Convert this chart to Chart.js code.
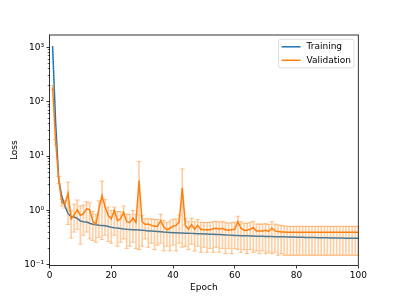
<!DOCTYPE html>
<html>
<head>
<meta charset="utf-8">
<script src="https://cdn.jsdelivr.net/npm/chart.js@4.4.0/dist/chart.umd.min.js"></script>
<style>
	html, body { margin: 0; padding: 0; background: #fff; }
</style>
</head>
<body>
<canvas id="chart" width="399" height="299"></canvas>
<script>
// values, one per epoch (1..100)
const trainLoss = [
	1050, 40, 3.6, 1.8, 1.2, 0.87, 0.77, 0.76, 0.71, 0.64,
	0.62, 0.61, 0.58, 0.555, 0.545, 0.535, 0.53, 0.52, 0.505, 0.49,
	0.48, 0.475, 0.465, 0.455, 0.45, 0.447, 0.443, 0.44, 0.435, 0.43,
	0.425, 0.42, 0.418, 0.414, 0.41, 0.405, 0.4, 0.397, 0.394, 0.39,
	0.388, 0.386, 0.384, 0.382, 0.38, 0.378, 0.376, 0.374, 0.372, 0.37,
	0.368, 0.366, 0.364, 0.362, 0.36, 0.357, 0.354, 0.351, 0.348, 0.345,
	0.344, 0.343, 0.342, 0.341, 0.34, 0.338, 0.336, 0.334, 0.333, 0.332,
	0.331, 0.33, 0.329, 0.328, 0.327, 0.326, 0.325, 0.324, 0.323, 0.322,
	0.321, 0.32, 0.319, 0.318, 0.317, 0.316, 0.315, 0.315, 0.314, 0.313,
	0.312, 0.312, 0.311, 0.31, 0.31, 0.309, 0.308, 0.308, 0.307, 0.306
];
const valLoss = [
	182, 18, 3.6, 1.4, 1.3, 2.07, 0.70, 0.83, 1.03, 0.81,
	0.87, 1.07, 1.03, 0.64, 0.55, 1.07, 1.88, 1.15, 0.81, 0.70,
	1.0, 0.65, 0.70, 0.92, 0.62, 0.60, 0.72, 0.60, 3.55, 0.62,
	0.55, 0.56, 0.53, 0.51, 0.51, 0.65, 0.50, 0.44, 0.47, 0.51,
	0.53, 0.62, 2.6, 0.53, 0.45, 0.55, 0.45, 0.53, 0.45, 0.44,
	0.44, 0.44, 0.46, 0.47, 0.45, 0.47, 0.44, 0.43, 0.44, 0.45,
	0.62, 0.47, 0.43, 0.43, 0.45, 0.48, 0.42, 0.42, 0.42, 0.43,
	0.41, 0.47, 0.42, 0.41, 0.40, 0.40, 0.398, 0.397, 0.396, 0.396,
	0.395, 0.395, 0.395, 0.395, 0.395, 0.395, 0.395, 0.395, 0.395, 0.395,
	0.395, 0.395, 0.395, 0.395, 0.395, 0.395, 0.395, 0.395, 0.395, 0.395
];
const valHigh = [
	200, 20, 4.2, 1.6, 1.5, 3.3, 1.0, 1.3, 1.55, 1.2,
	1.25, 1.45, 1.38, 0.95, 0.85, 1.5, 3.45, 1.6, 1.15, 1.0,
	1.15, 0.95, 0.95, 1.2, 0.85, 0.85, 1.0, 0.85, 8.0, 0.80,
	0.70, 0.70, 0.70, 0.68, 0.68, 0.85, 0.66, 0.60, 0.64, 0.68,
	0.70, 0.82, 5.8, 0.70, 0.62, 0.72, 0.62, 0.68, 0.61, 0.60,
	0.60, 0.60, 0.62, 0.63, 0.61, 0.63, 0.60, 0.58, 0.60, 0.61,
	0.78, 0.62, 0.58, 0.58, 0.60, 0.63, 0.56, 0.56, 0.56, 0.57,
	0.55, 0.62, 0.56, 0.54, 0.53, 0.52, 0.51, 0.51, 0.51, 0.51,
	0.51, 0.51, 0.51, 0.51, 0.51, 0.51, 0.51, 0.51, 0.51, 0.51,
	0.51, 0.51, 0.51, 0.51, 0.51, 0.51, 0.51, 0.51, 0.51, 0.51
];
const valLow = [
	165, 16, 3.1, 1.2, 1.1, 0.55, 0.31, 0.40, 0.45, 0.24,
	0.35, 0.40, 0.30, 0.28, 0.26, 0.32, 0.29, 0.35, 0.27, 0.25,
	0.35, 0.22, 0.26, 0.30, 0.20, 0.22, 0.26, 0.20, 0.19, 0.22,
	0.30, 0.21, 0.25, 0.19, 0.23, 0.25, 0.18, 0.22, 0.18, 0.23,
	0.18, 0.25, 0.21, 0.22, 0.19, 0.24, 0.18, 0.22, 0.17, 0.21,
	0.17, 0.20, 0.17, 0.21, 0.17, 0.20, 0.16, 0.20, 0.16, 0.20,
	0.19, 0.17, 0.19, 0.16, 0.19, 0.17, 0.18, 0.16, 0.18, 0.16,
	0.17, 0.16, 0.17, 0.15, 0.16, 0.15, 0.15, 0.15, 0.15, 0.15,
	0.15, 0.15, 0.15, 0.15, 0.15, 0.15, 0.15, 0.15, 0.15, 0.15,
	0.15, 0.15, 0.15, 0.15, 0.15, 0.15, 0.15, 0.15, 0.15, 0.15
];
const epochs = trainLoss.map((_, i) => i + 1);

const xTicks = [0, 20, 40, 60, 80, 100];
const yMajorTicks = [0.1, 1, 10, 100, 1000];
const yMajorLabels = ['10\u207B\u00B9', '10\u2070', '10\u00B9', '10\u00B2', '10\u00B3'];
const yMinorTicks = [];
for (let p = -1; p <= 3; p++) {
	for (let k = 2; k <= 9; k++) yMinorTicks.push(k * Math.pow(10, p));
}

const Y_MIN = 0.097, Y_MAX = 1680;
const BLUE = '#1f77b4', ORANGE = '#ff7f0e', ERR = 'rgba(255,127,14,0.38)';
const FONT = { family: '"DejaVu Sans", sans-serif', size: 9 };

const frame = {
	id: 'frame',
	afterDraw(chart) {
		const { ctx, chartArea: a } = chart;
		ctx.save();
		ctx.strokeStyle = '#000';
		ctx.lineWidth = 0.8;
		ctx.strokeRect(a.left, a.top, a.right - a.left, a.bottom - a.top);
		ctx.restore();
	}
};

const legendBox = {
	id: 'legendBox',
	afterDraw(chart) {
		const { ctx, chartArea: a } = chart;
		const items = chart.data.datasets.filter(d => d.label);
		ctx.save();
		ctx.font = '9px "DejaVu Sans", sans-serif';
		const textW = Math.max(...items.map(d => ctx.measureText(d.label).width));
		const w = 28 + textW + 3, h = 28.5;
		const x0 = a.right - 4.3 - w, y0 = a.top + 4.3;
		ctx.fillStyle = 'rgba(255,255,255,0.8)';
		ctx.strokeStyle = '#d6d6d6';
		ctx.lineWidth = 0.8;
		ctx.beginPath();
		ctx.roundRect(x0, y0, w, h, 2);
		ctx.fill();
		ctx.stroke();
		items.forEach((d, i) => {
			const y = y0 + 7.5 + i * 13.5;
			ctx.strokeStyle = d.borderColor;
			ctx.lineWidth = 1.5;
			ctx.beginPath();
			ctx.moveTo(x0 + 3, y);
			ctx.lineTo(x0 + 22, y);
			ctx.stroke();
			ctx.fillStyle = '#000';
			ctx.textBaseline = 'middle';
			ctx.fillText(d.label, x0 + 28, y);
		});
		ctx.restore();
	}
};

new Chart(document.getElementById('chart'), {
	type: 'line',
	data: {
		datasets: [
			{
				label: 'Training',
				data: epochs.map((e, i) => ({ x: e, y: trainLoss[i] })),
				borderColor: BLUE, borderWidth: 1.5, pointRadius: 0,
				yAxisID: 'y', order: 3
			},
			{
				type: 'bar',
				data: epochs.map((e, i) => ({ x: e, y: [valLow[i], valHigh[i]] })),
				backgroundColor: ERR, barThickness: 1, grouped: false,
				yAxisID: 'y', order: 2
			},
			{
				type: 'scatter',
				data: epochs.flatMap((e, i) => [{ x: e, y: valHigh[i] }, { x: e, y: valLow[i] }]),
				pointStyle: 'line', pointRadius: 2.5, borderColor: ERR, borderWidth: 1,
				yAxisID: 'y', order: 2
			},
			{
				label: 'Validation',
				data: epochs.map((e, i) => ({ x: e, y: valLoss[i] })),
				borderColor: ORANGE, borderWidth: 1.5, pointRadius: 0,
				yAxisID: 'y', order: 1
			}
		]
	},
	options: {
		responsive: false,
		animation: false,
		events: [],
		layout: { padding: { left: 0, right: 40.7, top: 35, bottom: 0 } },
		plugins: { legend: { display: false }, tooltip: { enabled: false } },
		scales: {
			x: {
				type: 'linear', position: 'bottom', min: 0, max: 100, offset: false,
				afterBuildTicks: s => { s.ticks = xTicks.map(v => ({ value: v })); },
				ticks: { font: FONT, color: '#000', padding: 2, maxRotation: 0, autoSkip: false },
				grid: { offset: false, drawOnChartArea: false, tickLength: 3, tickColor: '#000', tickWidth: 0.8 },
				border: { display: false },
				title: { display: true, text: 'Epoch', font: FONT, color: '#000', padding: { top: 0, bottom: 5.6 } },
				afterFit: s => { s.height = 33.5; }
			},
			y: {
				type: 'logarithmic', position: 'left', min: Y_MIN, max: Y_MAX, bounds: 'data', weight: 1,
				afterBuildTicks: s => { s.ticks = yMajorTicks.map(v => ({ value: v, major: true })); },
				ticks: {
					font: FONT, color: '#000', padding: 2.5, autoSkip: false,
					callback: v => yMajorLabels[yMajorTicks.indexOf(v)] ?? ''
				},
				grid: { drawOnChartArea: false, tickLength: 3, tickColor: '#000', tickWidth: 0.8 },
				border: { display: false },
				title: { display: true, text: 'Loss', font: FONT, color: '#000', padding: { top: 9.6, bottom: 0 } },
				afterFit: s => { s.width = 49.5; }
			},
			yMinor: {
				type: 'logarithmic', position: 'left', min: Y_MIN, max: Y_MAX, bounds: 'data', weight: 0,
				afterBuildTicks: s => { s.ticks = yMinorTicks.filter(v => v > Y_MIN && v < Y_MAX).map(v => ({ value: v })); },
				ticks: { display: false },
				grid: { drawOnChartArea: false, tickLength: 1.8, tickColor: '#000', tickWidth: 0.6 },
				border: { display: false },
				afterFit: s => { s.width = 0; }
			}
		}
	},
	plugins: [frame, legendBox]
});
</script>
</body>
</html>
